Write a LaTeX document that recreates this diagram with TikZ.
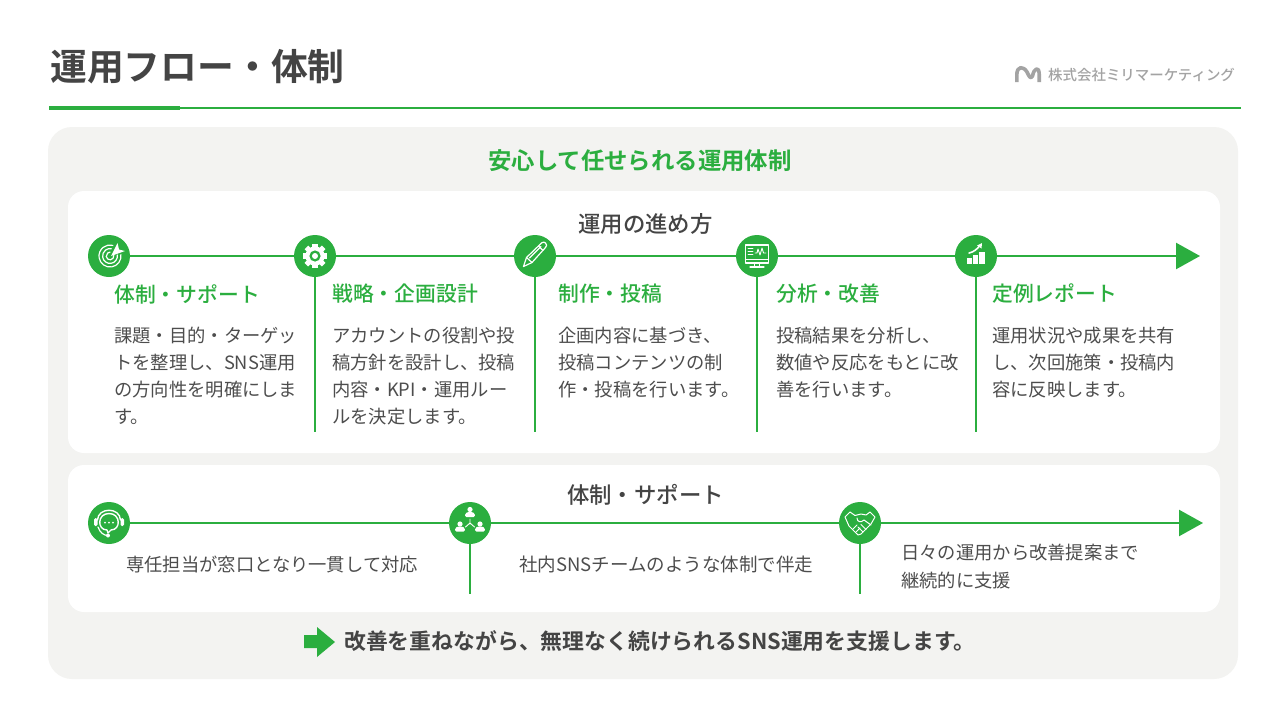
\documentclass[tikz,border=0pt]{standalone}
\usepackage{fontspec}
\usetikzlibrary{arrows.meta}
\setmainfont{Noto Sans CJK JP}[BoldFont={Noto Sans CJK JP Bold}]
\newfontfamily\medfont{Noto Sans CJK JP Medium}
\definecolor{grn}{HTML}{2BAE3F}
\definecolor{ink}{HTML}{444444}
\definecolor{body}{HTML}{4D4D4D}
\definecolor{panel}{HTML}{F3F3F1}
\definecolor{logo}{HTML}{A3A3A3}
\tikzset{
  x=1pt,y=-1pt,
  dot/.style={circle,fill=grn,minimum size=42pt,inner sep=0pt,draw=none},
  spine/.style={draw=grn,line width=2.4pt},
  spinearrow/.style={spine,-{Triangle[length=24pt,width=26pt]}},
  drop/.style={draw=grn,line width=1.2pt},
  head/.style={text=grn,font=\medfont\fontsize{20.8}{24}\selectfont,anchor=west,inner sep=0pt},
  bodytext/.style={text=body,font=\fontsize{18.3}{27}\selectfont,anchor=north west,align=left,inner sep=0pt},
  sectitle/.style={text=ink,font=\medfont\fontsize{22.4}{26}\selectfont,inner sep=0pt},
  ico/.style={draw=white,line width=1.2pt,line cap=round,line join=round},
}
\begin{document}
\begin{tikzpicture}
\useasboundingbox (0,0) rectangle (1280,720);
\fill[white] (0,0) rectangle (1280,720);
% header
\node[text=ink,font=\bfseries\fontsize{36.8}{40}\selectfont,anchor=west,inner sep=0pt] (title) at (50,67) {運用フロー・体制};
\coordinate (ruleA) at (49,108);
\coordinate (ruleB) at (180,108);
\coordinate (ruleC) at (1241,108);
\draw[draw=grn,line width=1.2pt] (ruleA) -- (ruleC);
\draw[draw=grn,line width=4.2pt] (ruleA) -- (ruleB);
% logo
\draw[draw=logo,line width=3.6pt,line join=round] (1016.8,82) -- (1016.8,75) .. controls (1016.8,65.5) and (1023.5,66) .. (1027,72) .. controls (1029,76) and (1030.5,80) .. (1032.5,76) .. controls (1034,68) and (1039,66) .. (1039.2,74) -- (1039.2,82);
\node[text=logo,font=\medfont\fontsize{14.45}{16}\selectfont,anchor=west,inner sep=0pt] (company) at (1048,75) {株式会社ミリマーケティング};
% panels
\fill[panel,rounded corners=24pt] (48,127) rectangle (1238,679);
\fill[white!98!panel,rounded corners=16pt] (68,191) rectangle (1220,453);
\fill[white!98!panel,rounded corners=16pt] (68,465) rectangle (1220,612);
\node[text=grn,font=\bfseries\fontsize{23.4}{26}\selectfont,inner sep=0pt] (main) at (640,161) {安心して任せられる運用体制};
\node[sectitle] (flowT) at (645.5,224) {運用の進め方};
\node[sectitle] (supT) at (645.5,495) {体制・サポート};
% row one spine
\node[dot] (a1) at (109,256) {};
\node[dot] (a2) at (315,256) {};
\node[dot] (a3) at (535,256) {};
\node[dot] (a4) at (757,256) {};
\node[dot] (a5) at (976,256) {};
\coordinate (aEnd) at (1200,256);
\draw[spine] (a1) -- (a2);
\draw[spine] (a2) -- (a3);
\draw[spine] (a3) -- (a4);
\draw[spine] (a4) -- (a5);
\draw[spinearrow] (a5) -- (aEnd);
\coordinate (a2d) at (315,432);
\coordinate (a3d) at (535,432);
\coordinate (a4d) at (757,432);
\coordinate (a5d) at (976,432);
\draw[drop] (a2) -- (a2d);
\draw[drop] (a3) -- (a3d);
\draw[drop] (a4) -- (a4d);
\draw[drop] (a5) -- (a5d);
% row one text
\node[head] (h1) at (114,294) {体制・サポート};
\node[head] (h2) at (332,294) {戦略・企画設計};
\node[head] (h3) at (558,294) {制作・投稿};
\node[head] (h4) at (776,294) {分析・改善};
\node[head] (h5) at (992,294) {定例レポート};
\node[bodytext] (b1) at (114,327) {課題・目的・ターゲッ\\トを整理し、SNS運用\\の方向性を明確にしま\\す。};
\node[bodytext] (b2) at (332,327) {アカウントの役割や投\\稿方針を設計し、投稿\\内容・KPI・運用ルー\\ルを決定します。};
\node[bodytext] (b3) at (558,327) {企画内容に基づき、\\投稿コンテンツの制\\作・投稿を行います。};
\node[bodytext] (b4) at (776,327) {投稿結果を分析し、\\数値や反応をもとに改\\善を行います。};
\node[bodytext] (b5) at (992,327) {運用状況や成果を共有\\し、次回施策・投稿内\\容に反映します。};
% row two spine
\node[dot] (c1) at (109,523) {};
\node[dot] (c2) at (470,523) {};
\node[dot] (c3) at (860,523) {};
\coordinate (cEnd) at (1203,523);
\draw[spine] (c1) -- (c2);
\draw[spine] (c2) -- (c3);
\draw[spinearrow] (c3) -- (cEnd);
\coordinate (c2d) at (470,594);
\coordinate (c3d) at (860,594);
\draw[drop] (c2) -- (c2d);
\draw[drop] (c3) -- (c3d);
\node[bodytext] (d1) at (126,556) {専任担当が窓口となり一貫して対応};
\node[bodytext,font=\fontsize{18.5}{27}\selectfont] (d2) at (519,556) {社内SNSチームのような体制で伴走};
\node[bodytext,font=\fontsize{18.3}{28}\selectfont] (d3) at (901,544) {日々の運用から改善提案まで\\継続的に支援};
% footer
\fill[grn] (304,635) -- (317,635) -- (317,627) -- (335,642) -- (317,657) -- (317,648) -- (304,648) -- cycle;
\node[text=ink,font=\bfseries\fontsize{21.85}{24}\selectfont,anchor=west,inner sep=0pt] (foot) at (344,641) {改善を重ねながら、無理なく続けられるSNS運用を支援します。};
% icon: target
\begin{scope}[shift={(a1.center)}]
  \draw[ico] (1,0) ++(-8:11) arc[start angle=-8,end angle=285,radius=11];
  \draw[ico] (1,0) ++(-8:7.4) arc[start angle=-8,end angle=280,radius=7.4];
  \draw[ico] (1,0) ++(-8:3.8) arc[start angle=-8,end angle=270,radius=3.8];
  \fill[white] (2,0) -- (8.5,-13) -- (10,-6.5) -- (16,-5) -- cycle;
\end{scope}
% icon: gear
\begin{scope}[shift={(a2.center)}]
  \foreach \a in {0,45,...,315}{\fill[white,rotate=\a] (-2.6,-12.2) rectangle (2.6,-6);}
  \fill[white] (0,0) circle[radius=9.6];
  \fill[grn] (0,0) circle[radius=5.6];
  \fill[white] (0,0) circle[radius=3];
\end{scope}
% icon: pencil
\begin{scope}[shift={(a3.center)}]
  \draw[ico] (-11.5,10.5) -- (-8.5,1.5) -- (6.5,-13) .. controls (8,-14.5) and (9.5,-14) .. (10.5,-13) .. controls (12,-11.5) and (12,-10) .. (10.5,-8.5) -- (-3,6.5) -- cycle;
  \draw[ico] (-8.5,1.5) -- (-3,6.5);
  \draw[ico] (3.5,-10) -- (8,-5.5);
  \draw[ico] (-5.5,2) -- (6,-9.5);
\end{scope}
% icon: monitor
\begin{scope}[shift={(a4.center)}]
  \draw[ico] (-11.5,-11) rectangle (11.5,7);
  \draw[ico] (-11.5,3.5) -- (11.5,3.5);
  \draw[ico] (-2.5,7) -- (-2.5,10.5) (2.5,7) -- (2.5,10.5) (-7,11) -- (7,11);
  \draw[ico,line width=.9pt] (-9,-7.5) -- (-4,-7.5) (-9,-4.5) -- (-4,-4.5) (-9,-1.5) -- (-4,-1.5);
  \draw[ico,line width=.9pt] (-2,-3) -- (0,-3) -- (1,-7) -- (3,-1) -- (5,-8) -- (6.5,-3) -- (9,-3);
\end{scope}
% icon: chart
\begin{scope}[shift={(a5.center)}]
  \fill[white] (-9,2) rectangle (-3.6,8);
  \fill[white] (-2.6,-1) rectangle (2.4,8);
  \fill[white] (3.4,-4.5) rectangle (8.6,8);
  \draw[ico,line width=1.6pt] (-7,-3) .. controls (-2,-4) and (1,-7) .. (3.5,-10);
  \fill[white] (6,-13) -- (5.5,-7.5) -- (1,-10.5) -- cycle;
\end{scope}
% icon: headset
\begin{scope}[shift={(c1.center)}]
  \draw[ico,line width=1.4pt] (-11.5,-3) .. controls (-11,-16) and (11,-16) .. (11.5,-3);
  \fill[white,rounded corners=1.5pt] (-15,-5) rectangle (-11.5,3);
  \fill[white,rounded corners=1.5pt] (11.5,-5) rectangle (15,3);
  \draw[ico,line width=1.4pt] (0,-9.5) .. controls (-12,-9.5) and (-12,7) .. (-2,7) -- (-1,10) -- (2,7) .. controls (12,7) and (12,-9.5) .. (0,-9.5) -- cycle;
  \draw[ico] (-11,4) .. controls (-9,10) and (-5,12) .. (-2,12.5);
  \fill[white] (-1,12.5) circle[radius=2];
  \fill[white] (-4,-.5) circle[radius=1] (0,-.5) circle[radius=1] (4,-.5) circle[radius=1];
\end{scope}
% icon: team
\begin{scope}[shift={(c2.center)}]
  \foreach \px/\py in {0/-12,-10/2.5,10/2.5}{
    \begin{scope}[xshift=\px pt,yshift=-\py pt]
      \fill[white] (0,-1.5) circle[radius=2.6];
      \fill[white,rounded corners=1.2pt] (-4.8,6) -- (-4.8,2.5) -- (-2,1) -- (2,1) -- (4.8,2.5) -- (4.8,6) -- cycle;
    \end{scope}}
  \draw[ico,line width=.9pt] (0,-4) -- (0,1) (0,0) -- (-4.5,4) (0,0) -- (4.5,4);
\end{scope}
% icon: handshake
\begin{scope}[shift={(c3.center)}]
  \draw[ico,line width=1pt] (-15,-6) -- (-10,-11) -- (-5,-7.5) -- (1,-9) -- (6,-8) -- (10,-11) -- (15,-6) -- (11,1) -- (1,11) .. controls (-1,13) and (-3,12) .. (-4,10) -- (-11,3) -- cycle;
  \draw[ico,line width=1pt] (-3,-5) .. controls (-3,-1) and (1,0) .. (4,-3) -- (11,2);
  \draw[ico,line width=1pt] (-2,4) -- (3,9) (1,1.5) -- (6,6.5) (-7,6) -- (-3,2) (-4,9) -- (0,5);
\end{scope}
\end{tikzpicture}
\end{document}
